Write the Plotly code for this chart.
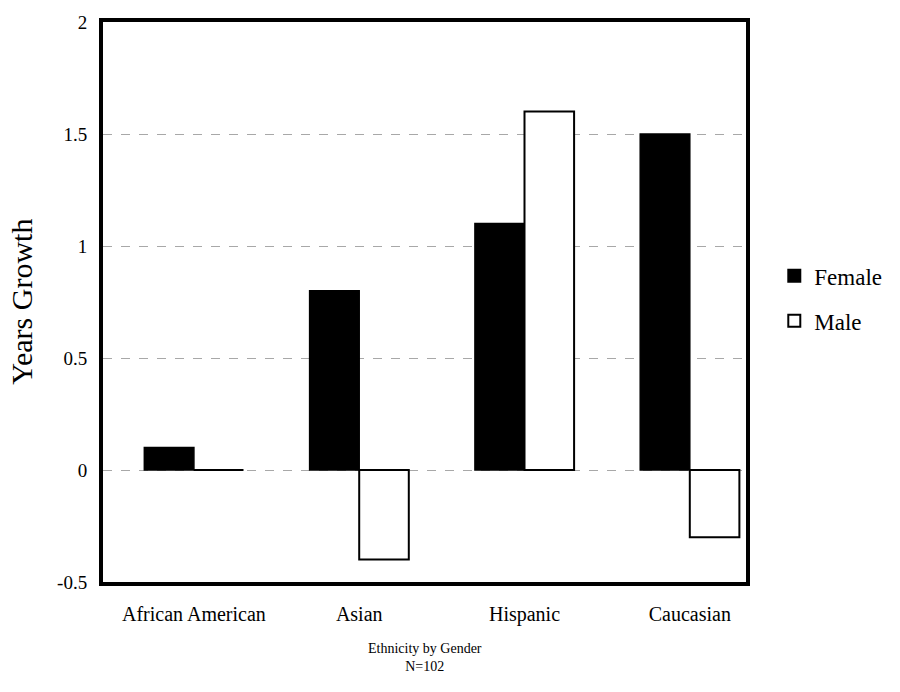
import plotly.graph_objects as go

categories = ["African American", "Asian", "Hispanic", "Caucasian"]
female = [0.1, 0.8, 1.1, 1.5]
male = [0.0, -0.4, 1.6, -0.3]
y_ticks = [-0.5, 0, 0.5, 1, 1.5, 2]
y_tick_text = ["-0.5", "0", "0.5", "1", "1.5", "2"]

font_family = "Liberation Serif"

fig = go.Figure()
fig.add_trace(go.Bar(
    x=list(range(len(categories))), y=female, name="Female", legendgroup="f",
    marker=dict(color="black", line=dict(color="black", width=1.5)),
))
fig.add_trace(go.Bar(
    x=list(range(len(categories))), y=male, name="Male", legendgroup="m",
    marker=dict(color="white", line=dict(color="black", width=2)),
))

fig.update_layout(
    width=900, height=692,
    paper_bgcolor="white", plot_bgcolor="white",
    margin=dict(l=103, r=154, t=17, b=110),
    barmode="group", bargap=0.4, bargroupgap=0,
    font=dict(family=font_family, color="black"),
    showlegend=True,
    legend=dict(x=1.044, y=0.585, xanchor="left", yanchor="top",
                font=dict(size=23, family=font_family),
                bgcolor="rgba(0,0,0,0)", itemsizing="constant",
                tracegroupgap=12, itemwidth=30),
    xaxis=dict(
        tickmode="array", tickvals=list(range(len(categories))), ticktext=categories,
        range=[-0.55, 3.34],
        showline=True, linecolor="black", linewidth=4, mirror=True,
        showgrid=False, zeroline=False, ticks="",
        tickfont=dict(size=20, family=font_family),
        ticklabelstandoff=11,
    ),
    yaxis=dict(
        range=[-0.5, 2], tickmode="array", tickvals=y_ticks, ticktext=y_tick_text,
        showline=True, linecolor="black", linewidth=4, mirror=True,
        showgrid=True, gridcolor="#a8a8a8", griddash="dash", gridwidth=1,
        zeroline=False, ticks="",
        tickfont=dict(size=19, family=font_family),
        ticklabelstandoff=8,
    ),
    annotations=[
        dict(text="Years Growth", textangle=-90, xref="paper", yref="paper",
             x=-0.128, y=0.5, xanchor="center", yanchor="middle", showarrow=False,
             font=dict(size=30, family=font_family)),
        dict(text="Ethnicity by Gender<br>N=102", xref="paper", yref="paper",
             x=0.5, y=-0.135, xanchor="center", yanchor="middle", showarrow=False,
             font=dict(size=14, family=font_family)),
    ],
)

fig.write_html("out.html")
